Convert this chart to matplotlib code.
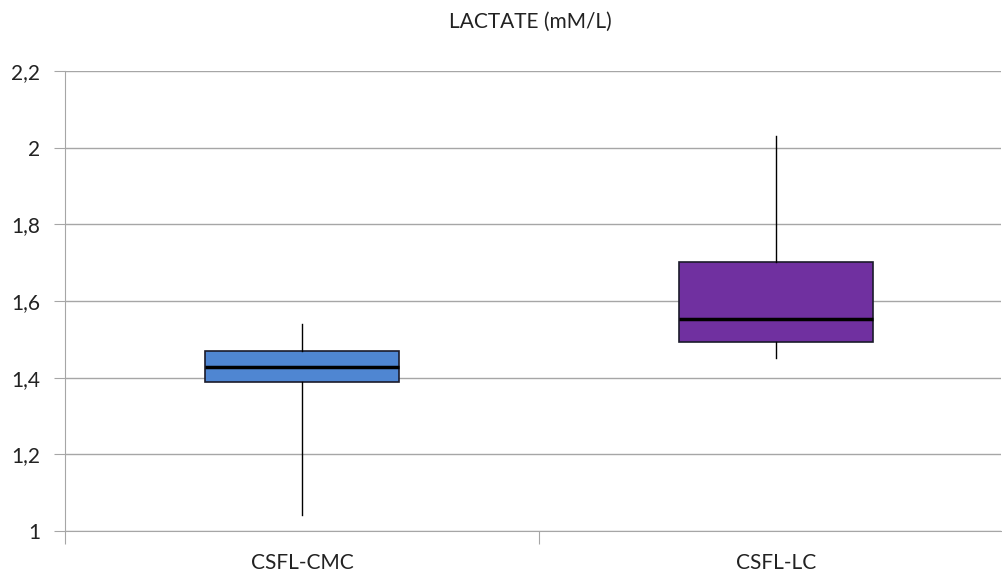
import matplotlib.pyplot as plt
import matplotlib.ticker as mticker

# Box plot values
categories = ["CSFL-CMC", "CSFL-LC"]
whisker_low = [1.042, 1.451]
q1 = [1.389, 1.493]
medians = [1.428, 1.552]
q3 = [1.470, 1.703]
whisker_high = [1.540, 2.031]
box_colors = ["#4F86D2", "#7030A0"]
y_ticks = [1.0, 1.2, 1.4, 1.6, 1.8, 2.0, 2.2]

plt.rcParams['font.family'] = ['Lato', 'DejaVu Sans']

fig = plt.figure(figsize=(10.02, 5.73), dpi=100)
ax = fig.add_axes([65 / 1002, 1 - 531 / 573, (1001 - 65) / 1002, 460 / 573])

stats = []
for i, name in enumerate(categories):
    stats.append(dict(label=name, whislo=whisker_low[i], q1=q1[i], med=medians[i],
                      q3=q3[i], whishi=whisker_high[i], fliers=[]))

bp = ax.bxp(stats, positions=range(len(categories)), widths=0.41, patch_artist=True,
            showcaps=False, showfliers=False,
            medianprops=dict(color="black", linewidth=2.5),
            whiskerprops=dict(color="black", linewidth=1),
            boxprops=dict(linewidth=1.2))
for patch, c in zip(bp['boxes'], box_colors):
    patch.set_facecolor(c)
    patch.set_edgecolor("#1b1b2b")
for artist in bp['boxes'] + bp['medians'] + bp['whiskers']:
    artist.set_zorder(3)

ax.set_yticks(y_ticks)
ax.yaxis.set_major_formatter(mticker.FuncFormatter(
    lambda v, p: ("%g" % round(v, 2)).replace(".", ",")))
ax.yaxis.grid(True, color="#a6a6a6", linewidth=1)
ax.set_axisbelow(True)

# category labels on minor ticks, boundary marks on major ticks
ax.set_xticks([-0.5, 0.5, 1.5])
ax.set_xticklabels([])
ax.set_xticks(range(len(categories)), minor=True)
ax.set_xticklabels(categories, minor=True)
ax.tick_params(axis="x", which="major", length=9, color="#a6a6a6", direction="out")
ax.tick_params(axis="x", which="minor", length=0, pad=16, labelsize=15, labelcolor="#222222")
ax.tick_params(axis="y", length=8, color="#a6a6a6", pad=10, labelsize=15, labelcolor="#222222")

# limits after ticks, so set_xticks does not widen the view
ax.set_ylim(1.0, 2.2)
ax.set_xlim(-0.5, -0.5 + (1001 - 65) / 474)

for s in ["top", "right"]:
    ax.spines[s].set_visible(False)
for s in ["left", "bottom"]:
    ax.spines[s].set_color("#a6a6a6")

fig.text(530 / 1002, 1 - 22 / 573, "LACTATE (mM/L)", ha="center", va="center",
         fontsize=15, color="#222222")

fig.savefig("out.png", dpi=100, facecolor="white")
